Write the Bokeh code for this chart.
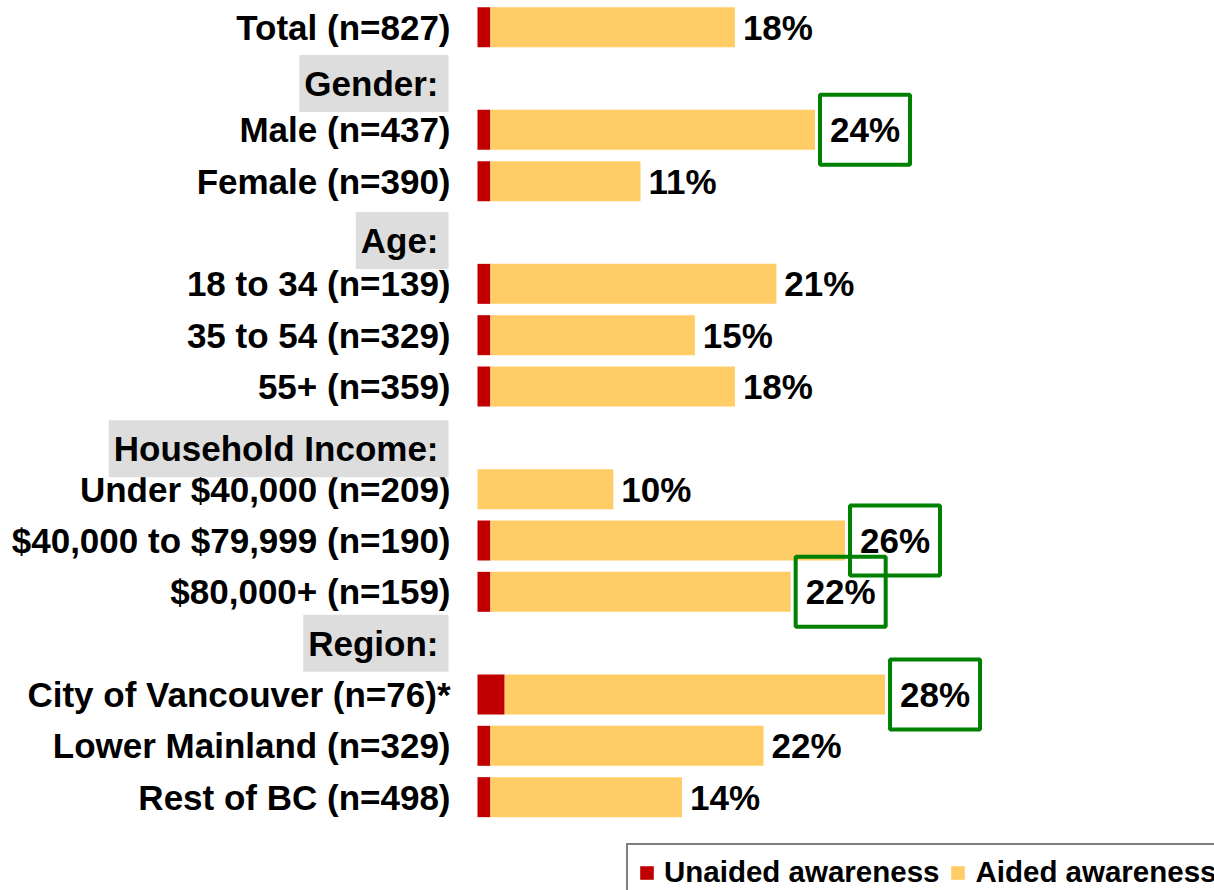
from bokeh.plotting import figure
from bokeh.models import ColumnDataSource, Range1d, Legend, LegendItem
from bokeh.core.properties import value
from bokeh.embed import file_html
from bokeh.resources import INLINE

# ---------------- data ----------------
categories = [
    "Total (n=827)",
    "Male (n=437)", "Female (n=390)",
    "18 to 34 (n=139)", "35 to 54 (n=329)", "55+ (n=359)",
    "Under $40,000 (n=209)", "$40,000 to $79,999 (n=190)", "$80,000+ (n=159)",
    "City of Vancouver (n=76)*", "Lower Mainland (n=329)", "Rest of BC (n=498)",
]
unaided = [0.9, 0.9, 0.9, 0.9, 0.9, 0.9, 0.0, 0.9, 0.9, 1.9, 0.9, 0.9]
aided = [17.1, 22.7, 10.5, 20.0, 14.3, 17.1, 9.5, 24.8, 21.0, 26.6, 19.1, 13.4]
shown_total = [18, 24, 11, 21, 15, 18, 10, 26, 22, 28, 22, 14]
highlighted = [False, True, False, False, False, False, False, True, True, True, False, False]
section_titles = [None, "Gender:", "Age:", "Household Income:", "Region:"]
section_sizes = [1, 2, 3, 3, 3]
series_names = ["Unaided awareness", "Aided awareness"]

# ---------------- layout / style ----------------
W, H = 1214, 890
PX_PER_PCT = 14.3
ROW_PX = 51.33
X0_PX = 477
ROW0_PX = 26.7
RED = "#C00000"
YELLOW = "#FFCC66"
GREEN = "#008000"
HEAD_BG = "#DDDDDD"
FONT_NAME = "Liberation Sans"
FONT = value(FONT_NAME)
FS = "35px"
header_nudge = {"Gender:": 5, "Age:": 8, "Household Income:": 11, "Region:": 0}

row_slot, head_slot, head_text = [], [], []
slot = 0
for title, n in zip(section_titles, section_sizes):
    if title:
        head_slot.append(slot)
        head_text.append(title)
        slot += 1
    for _ in range(n):
        row_slot.append(slot)
        slot += 1

totals = [u + a for u, a in zip(unaided, aided)]
src = ColumnDataSource(dict(
    y=row_slot, name=categories, u=unaided, tot=totals,
))
plain = [i for i, h in enumerate(highlighted) if not h]
hi = [i for i, h in enumerate(highlighted) if h]
src_plain = ColumnDataSource(dict(
    y=[row_slot[i] for i in plain], tot=[totals[i] for i in plain],
    lab=[f"{shown_total[i]}%" for i in plain],
))
src_hi = ColumnDataSource(dict(
    y=[row_slot[i] for i in hi], tot=[totals[i] for i in hi],
    bx=[totals[i] + 50 / PX_PER_PCT for i in hi],
    lab=[f"{shown_total[i]}%" for i in hi],
))
src_head = ColumnDataSource(dict(
    y=head_slot, t=head_text, dy=[header_nudge[t] for t in head_text],
))

x_range = Range1d(-X0_PX / PX_PER_PCT, (W - X0_PX) / PX_PER_PCT)
top = -ROW0_PX / ROW_PX
y_range = Range1d(start=top + H / ROW_PX, end=top)

p = figure(width=W, height=H, x_range=x_range, y_range=y_range,
           output_backend="svg", toolbar_location=None,
           x_axis_location=None, y_axis_location=None,
           min_border=0, min_border_left=0, min_border_right=0,
           min_border_top=0, min_border_bottom=0)
p.outline_line_color = None
p.grid.visible = False
p.background_fill_color = "white"
p.border_fill_color = "white"

BAR_H = 40 / ROW_PX
r_u = p.hbar(y="y", left=0, right="u", height=BAR_H, source=src,
             fill_color=RED, line_color=None)
r_a = p.hbar(y="y", left="u", right="tot", height=BAR_H, source=src,
             fill_color=YELLOW, line_color=None)

# category labels
p.text(x=0, y="y", text="name", source=src, x_offset=-27,
       text_align="right", text_baseline="middle", text_font=FONT,
       text_font_size=FS, text_font_style="bold", text_color="black")

# section headers with grey background
p.text(x=0, y="y", text="t", source=src_head, x_offset=-29, y_offset="dy",
       text_align="right", text_baseline="middle", text_font=FONT,
       text_font_size=FS, text_font_style="bold", text_color="black",
       background_fill_color=HEAD_BG,
       padding=dict(left=5, right=10, top=9, bottom=9))

# highlight boxes
p.rect(x="bx", y="y", width=90, height=70, width_units="screen",
       height_units="screen", source=src_hi, fill_color=None,
       line_color=GREEN, line_width=4)

# value labels
p.text(x="tot", y="y", text="lab", source=src_plain, x_offset=8,
       text_align="left", text_baseline="middle", text_font=FONT,
       text_font_size=FS, text_font_style="bold", text_color="black")
p.text(x="bx", y="y", text="lab", source=src_hi,
       text_align="center", text_baseline="middle", text_font=FONT,
       text_font_size=FS, text_font_style="bold", text_color="black")

legend = Legend(
    items=[LegendItem(label=series_names[0], renderers=[r_u]),
           LegendItem(label=series_names[1], renderers=[r_a])],
    orientation="horizontal", location=(626, -11),
    glyph_width=17, glyph_height=17, label_standoff=9, spacing=10,
    padding=10, margin=0,
    label_text_font=FONT_NAME, label_text_font_size="29.5px",
    label_text_font_style="bold", label_text_color="black",
    border_line_color="black", border_line_width=2,
    background_fill_color="white", background_fill_alpha=1.0,
)
p.add_layout(legend)

open("out.html", "w").write(file_html(p, INLINE))
